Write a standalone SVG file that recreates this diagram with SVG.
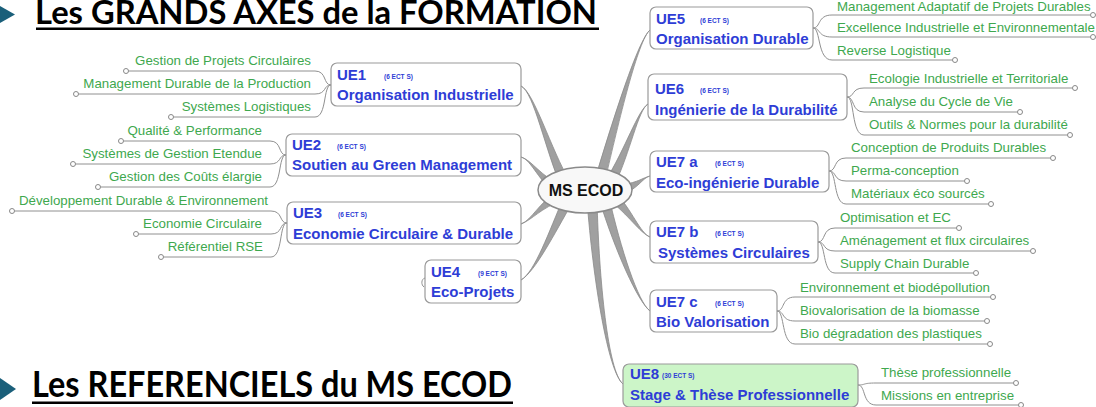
<svg xmlns="http://www.w3.org/2000/svg" width="1096" height="407" viewBox="0 0 1096 407">
<style>
.title{font-family:Lato,"Liberation Sans",sans-serif;font-weight:700;font-size:36px;fill:#000}
.t1{font-size:32px}
.ue{font-family:"Liberation Sans",Arial,sans-serif;font-weight:700;font-size:15px;fill:#2e3dd6}
.ects{font-family:"Liberation Sans",Arial,sans-serif;font-weight:700;font-size:6.5px;fill:#2e3dd6}
.leaf{font-family:"Liberation Sans",Arial,sans-serif;font-size:13.3px;fill:#3ea84e}
.lend{text-anchor:end}
.box{fill:#fff;stroke:#9a9a9a;stroke-width:1.2}
.box8{fill:#ccf5c8;stroke:#9a9a9a;stroke-width:1.2}
.br{fill:none;stroke:#909090;stroke-width:1}
.dot{fill:#fff;stroke:#888;stroke-width:1}
.con{fill:#a0a0a0;stroke:#8a8a8a;stroke-width:0.8}
.hub{fill:#f8f8f8;stroke:#8a8a8a;stroke-width:1.5}
.hubt{font-family:"Liberation Sans",Arial,sans-serif;font-weight:700;font-size:16px;fill:#111;text-anchor:middle}
</style>

<g id="titles">
<polygon points="0,6 15,14.5 0,23" fill="#1a5f7a"/>
<text class="title t1" x="35" y="24" textLength="562" lengthAdjust="spacingAndGlyphs">Les GRANDS AXES de la FORMATION</text>
<rect x="36" y="27.5" width="563" height="2.5" fill="#000"/>
<polygon points="0,378 16,389 0,400" fill="#1a5f7a"/>
<text class="title" x="32" y="397" textLength="480" lengthAdjust="spacingAndGlyphs">Les REFERENCIELS du MS ECOD</text>
<rect x="32" y="401.5" width="481" height="2.5" fill="#000"/>
</g>

<g id="connectors">
<path class="con" d="M521,86 C534,92 550.6,148.6 570.4,182.7 L561.6,187.3 C545.4,151.4 534,92 521,86Z"/>
<path class="con" d="M521,157 C532,160 538.7,182.7 557.8,194.5 L562.2,185.5 C541.3,177.3 532,160 521,157Z"/>
<path class="con" d="M521,224 C532,220 541.2,207.7 562,200.6 L558,191.4 C538.8,202.3 532,220 521,224Z"/>
<path class="con" d="M521,280 C535,272 554.7,233.3 572.5,202.2 L563.5,197.8 C549.3,230.7 535,272 521,280Z"/>
<path class="con" d="M650,30 C638,40 618.9,120.7 604.9,181.2 L595.1,178.8 C613.1,119.3 638,40 650,30Z"/>
<path class="con" d="M648,104 C638,110 630.6,151.4 614.4,185.4 L605.6,180.6 C625.4,148.6 638,110 648,104Z"/>
<path class="con" d="M650,176 C642,178 638.7,188.9 621.1,194.9 L618.9,185.1 C637.3,183.1 642,178 650,176Z"/>
<path class="con" d="M650,237 C640,233 631.9,209.7 615.2,192.2 L608.8,199.8 C628.1,214.3 640,233 650,237Z"/>
<path class="con" d="M650,311 C638,302 620.9,249.2 608.8,196.6 L599.2,199.4 C615.1,250.8 638,302 650,311Z"/>
<path class="con" d="M623,384 C608,372 599,280 597,200 L587,200 C593,280 608,372 623,384Z"/>

<path class="br" d="M331,85 C323,85 327,71 315,71 L128.5,71"/>
<path class="br" d="M331,85 C323,85 327,94 315,94 L78.5,94"/>
<path class="br" d="M331,85 C323,85 327,117 315,117 L173.5,117"/>
<path class="br" d="M286,155 C278,155 282,141 270,141 L123.5,141"/>
<path class="br" d="M286,155 C278,155 282,164 270,164 L75.5,164"/>
<path class="br" d="M286,155 C278,155 282,187 270,187 L100.5,187"/>
<path class="br" d="M287,223 C279,223 283,211 271,211 L14.5,211"/>
<path class="br" d="M287,223 C279,223 283,234 271,234 L138.5,234"/>
<path class="br" d="M287,223 C279,223 283,257 271,257 L163.5,257"/>
<path class="br" d="M425,278 C421,279 421,285 424,287"/>
<path class="br" d="M813,28 C821,28 817,15 832,15 L1090.5,15"/>
<path class="br" d="M813,28 C821,28 817,37 832,37 L1090.5,37"/>
<path class="br" d="M813,28 C821,28 817,60 832,60 L952.5,60"/>
<path class="br" d="M847,97 C855,97 851,88 864,88 L1072.5,88"/>
<path class="br" d="M847,97 C855,97 851,112 864,112 L1017.5,112"/>
<path class="br" d="M847,97 C855,97 851,135 864,135 L1067.5,135"/>
<path class="br" d="M829,171 C837,171 833,158 846,158 L1050.5,158"/>
<path class="br" d="M829,171 C837,171 833,181 846,181 L964.5,181"/>
<path class="br" d="M829,171 C837,171 833,204 846,204 L988.5,204"/>
<path class="br" d="M818,242 C826,242 822,228 835,228 L956.5,228"/>
<path class="br" d="M818,242 C826,242 822,251 835,251 L1030.5,251"/>
<path class="br" d="M818,242 C826,242 822,273 835,273 L973.5,273"/>
<path class="br" d="M777,311 C785,311 781,297 795,297 L990.5,297"/>
<path class="br" d="M777,311 C785,311 781,321 795,321 L984.5,321"/>
<path class="br" d="M777,311 C785,311 781,344 795,344 L987.5,344"/>
<path class="br" d="M858,385 C866,385 862,383 876,383 L1013.5,383"/>
<path class="br" d="M858,385 C866,385 862,405 876,405 L1018.5,405"/>

<g id="dots">
<circle class="dot" cx="126" cy="71" r="2.5"/>
<circle class="dot" cx="76" cy="94" r="2.5"/>
<circle class="dot" cx="171" cy="117" r="2.5"/>
<circle class="dot" cx="121" cy="141" r="2.5"/>
<circle class="dot" cx="73" cy="164" r="2.5"/>
<circle class="dot" cx="98" cy="187" r="2.5"/>
<circle class="dot" cx="12" cy="211" r="2.5"/>
<circle class="dot" cx="136" cy="234" r="2.5"/>
<circle class="dot" cx="161" cy="257" r="2.5"/>
<circle class="dot" cx="1093" cy="15" r="2.5"/>
<circle class="dot" cx="1093" cy="37" r="2.5"/>
<circle class="dot" cx="955" cy="60" r="2.5"/>
<circle class="dot" cx="1075" cy="88" r="2.5"/>
<circle class="dot" cx="1020" cy="112" r="2.5"/>
<circle class="dot" cx="1070" cy="135" r="2.5"/>
<circle class="dot" cx="1053" cy="158" r="2.5"/>
<circle class="dot" cx="967" cy="181" r="2.5"/>
<circle class="dot" cx="991" cy="204" r="2.5"/>
<circle class="dot" cx="959" cy="228" r="2.5"/>
<circle class="dot" cx="1033" cy="251" r="2.5"/>
<circle class="dot" cx="976" cy="273" r="2.5"/>
<circle class="dot" cx="993" cy="297" r="2.5"/>
<circle class="dot" cx="987" cy="321" r="2.5"/>
<circle class="dot" cx="990" cy="344" r="2.5"/>
<circle class="dot" cx="1016" cy="383" r="2.5"/>
<circle class="dot" cx="1021" cy="405" r="2.5"/>
</g>
</g>

<g id="hub">
<ellipse class="hub" cx="585" cy="190" rx="47" ry="23"/>
<text class="hubt" x="586" y="196">MS ECOD</text>
</g>

<g id="ue1">
<rect class="box" x="331" y="63" width="190" height="43" rx="6"/>
<text class="ue" x="337" y="80">UE1</text>
<text class="ects" x="384" y="79">(6 ECT S)</text>
<text class="ue" x="337" y="100">Organisation Industrielle</text>
<text class="leaf lend" x="311" y="65">Gestion de Projets Circulaires</text>
<text class="leaf lend" x="311" y="88">Management Durable de la Production</text>
<text class="leaf lend" x="311" y="111">Systèmes Logistiques</text>
</g>

<g id="ue2">
<rect class="box" x="286" y="134" width="235" height="42" rx="6"/>
<text class="ue" x="292" y="150">UE2</text>
<text class="ects" x="337" y="149">(6 ECT S)</text>
<text class="ue" x="292" y="170">Soutien au Green Management</text>
<text class="leaf lend" x="262" y="135">Qualité &amp; Performance</text>
<text class="leaf lend" x="262" y="158">Systèmes de Gestion Etendue</text>
<text class="leaf lend" x="262" y="181">Gestion des Coûts élargie</text>
</g>

<g id="ue3">
<rect class="box" x="287" y="202" width="234" height="42" rx="6"/>
<text class="ue" x="293" y="218">UE3</text>
<text class="ects" x="338" y="217">(6 ECT S)</text>
<text class="ue" x="293" y="239">Economie Circulaire &amp; Durable</text>
<text class="leaf lend" x="268" y="205">Développement Durable &amp; Environnement</text>
<text class="leaf lend" x="262" y="228">Economie Circulaire</text>
<text class="leaf lend" x="263" y="251">Référentiel RSE</text>
</g>

<g id="ue4">
<rect class="box" x="425" y="260" width="96" height="43" rx="6"/>
<text class="ue" x="431" y="277">UE4</text>
<text class="ects" x="478" y="276">(9 ECT S)</text>
<text class="ue" x="431" y="297">Eco-Projets</text>
</g>

<g id="ue5">
<rect class="box" x="650" y="7" width="163" height="42" rx="6"/>
<text class="ue" x="656" y="24">UE5</text>
<text class="ects" x="700" y="23">(6 ECT S)</text>
<text class="ue" x="656" y="44">Organisation Durable</text>
<text class="leaf" x="837" y="11">Management Adaptatif de Projets Durables</text>
<text class="leaf" x="837" y="32">Excellence Industrielle et Environnementale</text>
<text class="leaf" x="837" y="55">Reverse Logistique</text>
</g>

<g id="ue6">
<rect class="box" x="648" y="74" width="199" height="46" rx="6"/>
<text class="ue" x="655" y="94">UE6</text>
<text class="ects" x="700" y="93">(6 ECT S)</text>
<text class="ue" x="655" y="115">Ingénierie de la Durabilité</text>
<text class="leaf" x="869" y="83">Ecologie Industrielle et Territoriale</text>
<text class="leaf" x="869" y="106">Analyse du Cycle de Vie</text>
<text class="leaf" x="869" y="129">Outils &amp; Normes pour la durabilité</text>
</g>

<g id="ue7a">
<rect class="box" x="650" y="151" width="179" height="41" rx="6"/>
<text class="ue" x="656" y="167">UE7 a</text>
<text class="ects" x="715" y="166">(6 ECT S)</text>
<text class="ue" x="656" y="188">Eco-ingénierie Durable</text>
<text class="leaf" x="851" y="152">Conception de Produits Durables</text>
<text class="leaf" x="851" y="175">Perma-conception</text>
<text class="leaf" x="851" y="198">Matériaux éco sourcés</text>
</g>

<g id="ue7b">
<rect class="box" x="650" y="221" width="168" height="42" rx="6"/>
<text class="ue" x="656" y="237">UE7 b</text>
<text class="ects" x="715" y="236">(6 ECT S)</text>
<text class="ue" x="658" y="258">Systèmes Circulaires</text>
<text class="leaf" x="840" y="222">Optimisation et EC</text>
<text class="leaf" x="840" y="245">Aménagement et flux circulaires</text>
<text class="leaf" x="840" y="268">Supply Chain Durable</text>
</g>

<g id="ue7c">
<rect class="box" x="650" y="290" width="127" height="42" rx="6"/>
<text class="ue" x="656" y="307">UE7 c</text>
<text class="ects" x="715" y="306">(6 ECT S)</text>
<text class="ue" x="656" y="327">Bio Valorisation</text>
<text class="leaf" x="800" y="292">Environnement et biodépollution</text>
<text class="leaf" x="800" y="315">Biovalorisation de la biomasse</text>
<text class="leaf" x="800" y="338">Bio dégradation des plastiques</text>
</g>

<g id="ue8">
<rect class="box8" x="623" y="364" width="235" height="43" rx="6"/>
<text class="ue" x="630" y="379">UE8</text>
<text class="ects" x="662" y="378">(30 ECT S)</text>
<text class="ue" x="630" y="400">Stage &amp; Thèse Professionnelle</text>
<text class="leaf" x="881" y="377">Thèse professionnelle</text>
<text class="leaf" x="881" y="400">Missions en entreprise</text>
</g>
</svg>
